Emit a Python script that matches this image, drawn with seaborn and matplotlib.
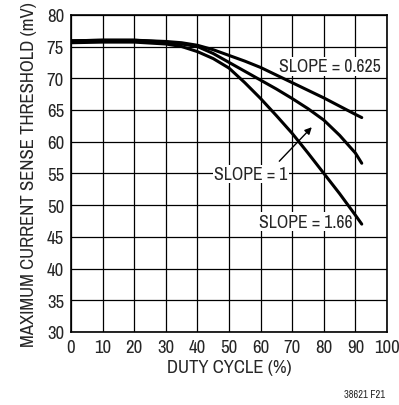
import matplotlib
matplotlib.use("Agg")
import matplotlib.pyplot as plt
import seaborn as sns
import pandas as pd

# duty cycle (%) sample points
duty = [0, 10, 20, 30, 35, 40, 45, 50, 55, 60, 65, 70, 75, 80, 85, 90, 92]

# max current sense threshold (mV) for each slope compensation curve
slope_0625 = [75.9, 76.0, 76.0, 75.8, 75.6, 75.2, 74.5, 73.6, 72.7, 71.7, 70.5, 69.3, 68.1, 66.9, 65.6, 64.3, 63.8]
slope_1 = [75.9, 76.0, 76.0, 75.7, 75.4, 75.0, 73.9, 72.5, 71.1, 69.7, 68.3, 66.8, 65.2, 63.4, 61.0, 58.2, 56.6]
slope_166 = [75.6, 75.7, 75.7, 75.4, 75.0, 74.2, 73.1, 71.6, 69.3, 66.8, 64.1, 61.3, 58.2, 55.0, 51.8, 48.4, 47.0]

df = pd.concat([
    pd.DataFrame({"duty": duty, "vth": slope_0625, "slope": "0.625"}),
    pd.DataFrame({"duty": duty, "vth": slope_1, "slope": "1"}),
    pd.DataFrame({"duty": duty, "vth": slope_166, "slope": "1.66"}),
])

sns.set_style("white")
plt.rcParams["font.family"] = ["Archivo Narrow", "DejaVu Sans"]

fig = plt.figure(figsize=(3.99, 4.06), dpi=100)
ax = fig.add_axes([0.178, 0.180, 0.792, 0.781])

sns.lineplot(data=df, x="duty", y="vth", units="slope", estimator=None,
             color="black", linewidth=2.2, legend=False, ax=ax, zorder=5)

ax.set_xlim(0, 100)
ax.set_ylim(30, 80)
ax.set_xticks(range(0, 101, 10))
ax.set_yticks(range(30, 81, 5))
ax.grid(True, color="black", linewidth=0.9)
ax.tick_params(length=0, labelsize=13.5, pad=5)
for s in ax.spines.values():
    s.set_color("black")
    s.set_linewidth(1.2)

ax.set_xlabel("DUTY CYCLE (%)", fontsize=13.5, labelpad=3)
ax.set_ylabel("MAXIMUM CURRENT SENSE THRESHOLD (mV)", fontsize=13.5, labelpad=7)

# curve labels with white boxes that cut the grid
box = dict(facecolor="white", edgecolor="none", pad=1)
ax.text(65.8, 71.9, "SLOPE = 0.625", fontsize=12.8, ha="left", va="center", bbox=box, zorder=4)
ax.text(45.3, 54.9, "SLOPE = 1", fontsize=12.8, ha="left", va="center", bbox=box, zorder=4)
ax.annotate("", xy=(76.8, 62.6), xytext=(65.3, 56.6),
            arrowprops=dict(arrowstyle="-|>", color="black", lw=1, mutation_scale=10), zorder=6)
ax.text(59.5, 47.4, "SLOPE = 1.66", fontsize=12.8, ha="left", va="center", bbox=box, zorder=4)

fig.text(0.965, 0.027, "38621 F21", fontsize=7.5, ha="right", va="center")

fig.savefig("out.png", dpi=100)
